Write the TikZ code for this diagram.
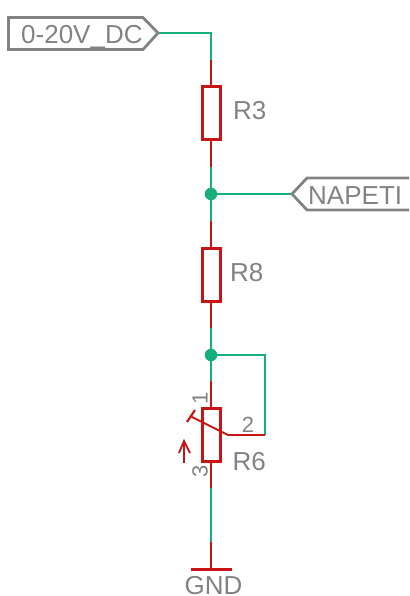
\documentclass[tikz,border=0pt]{standalone}
\usepackage{fontspec}
\setmainfont{Liberation Sans}
\definecolor{wiregreen}{RGB}{20,175,125}
\definecolor{partred}{RGB}{200,20,20}
\definecolor{labelgray}{RGB}{130,130,130}
\tikzset{
  wire/.style={draw=wiregreen,line width=1.8pt,line join=miter},
  lead/.style={draw=partred,line width=1.8pt},
  resbox/.style={draw=partred,line width=3pt,fill=white,minimum width=18pt,minimum height=53pt,inner sep=0pt,outer sep=0pt,rectangle},
  dotnode/.style={circle,fill=wiregreen,draw=none,minimum size=12.5pt,inner sep=0pt},
  flag/.style={draw=labelgray,line width=2.8pt,line join=miter},
  big/.style={text=labelgray,font=\fontsize{26}{26}\selectfont,inner sep=0pt,anchor=base west},
  small/.style={text=labelgray,font=\fontsize{22}{22}\selectfont,inner sep=0pt}
}
\begin{document}
\begin{tikzpicture}[x=1pt,y=-1pt]
\useasboundingbox (0,0) rectangle (409,596);
% coordinates
\coordinate (tipDC) at (158,33);
\coordinate (cornerDC) at (211,33);
\coordinate (p3top) at (211,60);
\coordinate (p3bot) at (211,167);
\coordinate (p8top) at (211,221);
\coordinate (p8bot) at (211,328);
\coordinate (p6top) at (211,381);
\coordinate (p6bot) at (211,488);
\coordinate (gndtop) at (211,542);
\coordinate (gndbar) at (211,569);
\coordinate (gndL) at (191,569);
\coordinate (gndR) at (232,569);
\coordinate (tipNA) at (292,194);
\coordinate (cornerA) at (265,355);
\coordinate (wiperEnd) at (265,435);
\coordinate (wiperElbow) at (228,435);
\coordinate (wiperTip) at (190,416);
\coordinate (barA) at (187,422);
\coordinate (barB) at (195,410);
\coordinate (arrTail) at (184,463);
\coordinate (arrHead) at (184,441);
\coordinate (arrL) at (179,453);
\coordinate (arrR) at (190,453);
% leads
\draw[lead] (p3top) -- (p3bot);
\draw[lead] (p8top) -- (p8bot);
\draw[lead] (p6top) -- (p6bot);
\draw[lead] (gndtop) -- (gndbar);
% parts
\node[resbox] (R3) at (211.3,113.5) {};
\node[resbox] (R8) at (211.3,274.5) {};
\node[resbox] (R6) at (211.3,435) {};
% junctions
\node[dotnode] (J1) at (211,194) {};
\node[dotnode] (J2) at (211,355) {};
% wires
\draw[wire] (tipDC) -- (cornerDC) -- (p3top);
\draw[wire] (p3bot) -- (J1.center) -- (p8top);
\draw[wire] (J1.center) -- (tipNA);
\draw[wire] (p8bot) -- (J2.center) -- (p6top);
\draw[wire] (J2.center) -- (cornerA) -- (wiperEnd);
\draw[wire] (p6bot) -- (gndtop);
% pot details
\draw[partred,line width=1.8pt] (wiperEnd) -- (wiperElbow) -- (wiperTip);
\draw[partred,line width=2.2pt] (barA) -- (barB);
\draw[partred,line width=1.8pt] (arrTail) -- (arrHead);
\draw[partred,line width=1.8pt] (arrL) -- (arrHead) -- (arrR);
% ground
\draw[partred,line width=3pt] (gndL) -- (gndR);
% flags
\draw[flag] (8.5,17.5) -- (143,17.5) -- (tipDC) -- (143,49.5) -- (8.5,49.5) -- cycle;
\draw[flag] (409,178) -- (307,178) -- (tipNA) -- (307,210) -- (409,210);
% labels
\node[big] (tDC) at (21,43.5) {0-20V\_DC};
\node[big] (tNA) at (308,204) {NAPETI};
\node[big] (tR3) at (233,120) {R3};
\node[big] (tR8) at (230,281) {R8};
\node[big] (tR6) at (232.5,470) {R6};
\node[big,anchor=base] (tGND) at (213.5,594.5) {GND};
\node[small,rotate=90] (t1) at (200,398) {1};
\node[small] (t2) at (248,425) {2};
\node[small,rotate=90] (t3) at (200,471) {3};
\end{tikzpicture}
\end{document}
